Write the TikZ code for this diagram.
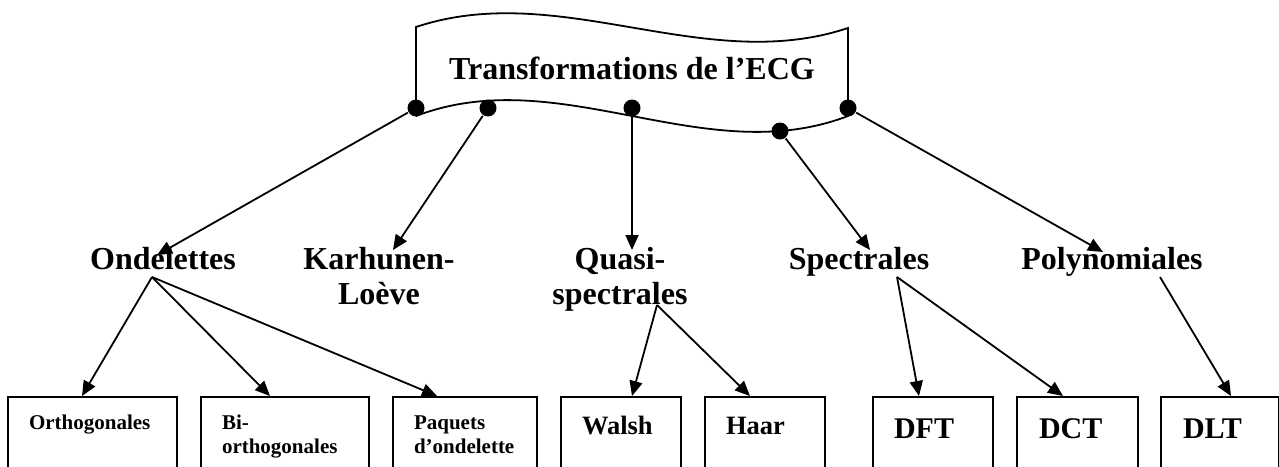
\documentclass[tikz,border=0pt]{standalone}
\usepackage{fontspec}
\setmainfont{Liberation Serif}
\usetikzlibrary{arrows.meta,calc}
\tikzset{
>={Triangle[length=15pt,width=13pt]},
dot/.style={circle, fill, inner sep=0pt, minimum size=17pt},
lvl/.style={font=\fontsize{32}{35}\selectfont\bfseries, text width=200pt, align=center, inner sep=0pt, anchor=base},
leaf/.style={draw, line width=2pt, anchor=north west, inner xsep=21pt, inner ysep=0pt, text depth=80pt, align=left},
sm/.style={font=\fontsize{21}{24}\selectfont\bfseries, text height=32pt},
md/.style={font=\fontsize{26.5}{30}\selectfont\bfseries, text height=37pt},
lg/.style={font=\fontsize{30}{34}\selectfont\bfseries, text height=41pt},
}

\begin{document}
\begin{tikzpicture}[x=1pt, y=-1pt, line width=1.8pt]

    \useasboundingbox (0,0) rectangle (1279,466);

    \draw (416,116) -- (416,27) .. controls (560,-21) and (704,76) .. (848,28)
        -- (848,116) .. controls (704,171) and (560,61) .. (416,116);
    \node[font=\fontsize{32}{35}\selectfont\bfseries, anchor=base] (t) at (632,79) {Transformations de l’ECG};

    \node[dot] (d1) at (416,108) {};
    \node[dot] (d2) at (488,108) {};
    \node[dot] (d3) at (632,108) {};
    \node[dot] (d4) at (780,131) {};
    \node[dot] (d5) at (848,108) {};

    \node[lvl] (ond) at (163,269) {Ondelettes};
    \node[lvl] (kl) at (379,269) {Karhunen-\\Loève};
    \node[lvl] (qs) at (620,269) {Quasi-\\spectrales};
    \node[lvl] (sp) at (859,269) {Spectrales};
    \node[lvl] (pol) at (1112,269) {Polynomiales};

    \node[leaf, sm, text width=127pt] (orth) at (7,396) {Orthogonales};
    \node[leaf, sm, text width=126pt] (bior) at (200,396) {Bi-\\orthogonales};
    \node[leaf, sm, text width=102pt] (paq) at (392,396) {Paquets\\d’ondelette};
    \node[leaf, md, text width=78pt] (wal) at (560,396) {Walsh};
    \node[leaf, md, text width=78pt] (haar) at (704,396) {Haar};
    \node[leaf, lg, text width=78pt] (dft) at (872,396) {DFT};
    \node[leaf, lg, text width=77pt, inner xsep=22pt] (dct) at (1016,396) {DCT};
    \node[leaf, lg, text width=74pt, inner xsep=22pt] (dlt) at (1160,396) {DLT};

    \draw[->] (d1) -- ($(ond.base)+(-6,-14)$);
    \draw[->] (d2) -- ($(kl.base)+(14,-19)$);
    \draw[->] (d3) -- ($(qs.base)+(12,-19)$);
    \draw[->] (d4) -- ($(sp.base)+(11,-19)$);
    \draw[->] (d5) -- ($(pol.base)+(-9,-17)$);

    \draw[->] ($(ond.base)+(-11,8)$) -- ($(orth.north west)+(75,0)$);
    \draw[->] ($(ond.base)+(-11,8)$) -- ($(bior.north west)+(70,0)$);
    \draw[->] ($(ond.base)+(-11,8)$) -- ($(paq.north west)+(45,0)$);
    \draw[->] ($(qs.base)+(37,36)$) -- ($(wal.north west)+(72,0)$);
    \draw[->] ($(qs.base)+(37,36)$) -- ($(haar.north west)+(46,0)$);
    \draw[->] ($(sp.base)+(38,8)$) -- ($(dft.north west)+(47,0)$);
    \draw[->] ($(sp.base)+(38,8)$) -- ($(dct.north west)+(47,0)$);
    \draw[->] ($(pol.base)+(48,8)$) -- ($(dlt.north west)+(71,0)$);

\end{tikzpicture}
\end{document}
